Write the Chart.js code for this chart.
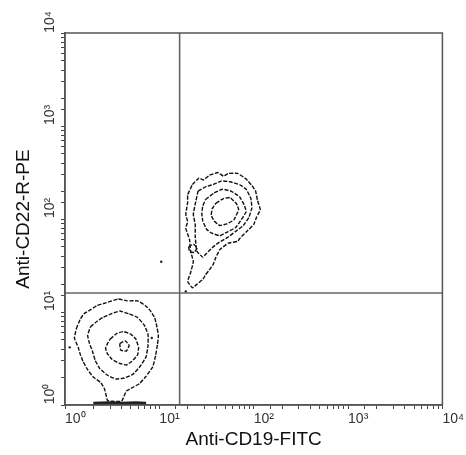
<!DOCTYPE html>
<html>
<head>
<meta charset="utf-8">
<script src="https://cdn.jsdelivr.net/npm/chart.js@4.4.1/dist/chart.umd.min.js"></script>
<style>
html,body{margin:0;padding:0;background:#fff;}
</style>
</head>
<body>
<canvas id="chart" width="466" height="455"></canvas>
<script>
// axis text
var xTitle = 'Anti-CD19-FITC';
var yTitle = 'Anti-CD22-R-PE';
var tickLabels = {1: '10\u2070', 10: '10\u00b9', 100: '10\u00b2', 1000: '10\u00b3', 10000: '10\u2074'};

// quadrant gate (channel values)
var gateX = 16.4;
var gateY = 16;

// contours, points given in decades [log10 x, log10 y]
var upperOuter = [[1.35,2.37],[1.42,2.44],[1.47,2.42],[1.53,2.47],[1.62,2.50],[1.68,2.46],[1.73,2.49],[1.83,2.49],[1.92,2.43],[1.98,2.36],[2.02,2.30],[2.04,2.20],[2.07,2.10],[2.03,2.02],[2.00,1.94],[1.92,1.86],[1.86,1.80],[1.83,1.76],[1.73,1.74],[1.64,1.67],[1.60,1.59],[1.57,1.51],[1.52,1.44],[1.49,1.40],[1.46,1.35],[1.40,1.30],[1.35,1.26],[1.30,1.33],[1.33,1.42],[1.36,1.54],[1.33,1.66],[1.32,1.78],[1.28,1.90],[1.30,1.97],[1.28,2.05],[1.30,2.18],[1.30,2.26]];
var upperMid = [[1.41,2.30],[1.50,2.35],[1.57,2.37],[1.66,2.41],[1.75,2.40],[1.85,2.37],[1.92,2.32],[1.97,2.22],[1.98,2.12],[1.95,2.02],[1.89,1.93],[1.80,1.86],[1.72,1.80],[1.62,1.74],[1.56,1.69],[1.50,1.63],[1.46,1.59],[1.40,1.65],[1.39,1.70],[1.38,1.82],[1.38,1.94],[1.36,2.05],[1.38,2.16]];
var upperInner = [[1.49,2.21],[1.58,2.28],[1.67,2.32],[1.76,2.30],[1.85,2.24],[1.90,2.15],[1.92,2.08],[1.86,1.98],[1.81,1.91],[1.72,1.86],[1.64,1.82],[1.55,1.85],[1.50,1.89],[1.46,1.98],[1.45,2.06],[1.46,2.14]];
var upperCore = [[1.60,2.17],[1.68,2.22],[1.75,2.23],[1.82,2.16],[1.84,2.10],[1.79,1.99],[1.72,1.95],[1.64,1.93],[1.58,1.98],[1.55,2.04],[1.56,2.11]];
var upperBlob = [[1.31,1.70],[1.36,1.73],[1.40,1.69],[1.37,1.64],[1.32,1.65]];
var lowerOuter = [[0.12,0.82],[0.16,0.92],[0.20,0.98],[0.28,1.03],[0.34,1.07],[0.44,1.10],[0.56,1.14],[0.66,1.12],[0.77,1.12],[0.85,1.07],[0.90,1.02],[0.95,0.94],[0.97,0.86],[0.99,0.75],[0.98,0.65],[0.96,0.53],[0.93,0.41],[0.86,0.31],[0.79,0.23],[0.70,0.18],[0.65,0.15],[0.62,0.08],[0.60,0.04],[0.50,0.04],[0.45,0.05],[0.42,0.17],[0.38,0.24],[0.30,0.30],[0.24,0.38],[0.19,0.47],[0.16,0.55],[0.14,0.62],[0.10,0.72]];
var lowerMid = [[0.27,0.84],[0.34,0.90],[0.40,0.94],[0.49,0.98],[0.58,1.01],[0.68,0.98],[0.77,0.94],[0.84,0.86],[0.88,0.76],[0.88,0.64],[0.86,0.52],[0.80,0.42],[0.72,0.33],[0.63,0.29],[0.54,0.28],[0.45,0.32],[0.37,0.39],[0.32,0.48],[0.29,0.58],[0.26,0.66],[0.24,0.75]];
var lowerInner = [[0.48,0.71],[0.55,0.77],[0.62,0.79],[0.70,0.76],[0.75,0.71],[0.78,0.62],[0.77,0.54],[0.71,0.47],[0.65,0.43],[0.57,0.45],[0.50,0.49],[0.45,0.55],[0.43,0.61],[0.45,0.66]];
var lowerCore = [[0.58,0.66],[0.64,0.69],[0.68,0.64],[0.65,0.58],[0.59,0.59]];
var baseBand = [[0.30,0.02],[0.45,0.025],[0.60,0.02],[0.75,0.025],[0.86,0.02]];
var strayDots = [[1.02,1.54],[0.05,0.62],[0.92,0.72],[1.28,1.22]];

function toPts(arr, close) {
    var pts = arr.map(function (p) { return {x: Math.pow(10, p[0]), y: Math.pow(10, p[1])}; });
    if (close) pts.push(pts[0]);
    return pts;
}

function contour(arr) {
    return {
        data: toPts(arr, true),
        showLine: true,
        borderColor: '#111',
        borderWidth: 1.4,
        borderDash: [4, 1.5],
        pointRadius: 0,
        tension: 0.1,
        fill: false
    };
}

var frame = {
    id: 'frame',
    afterDatasetsDraw: function (chart) {
        var a = chart.chartArea, ctx = chart.ctx;
        ctx.save();
        ctx.strokeStyle = '#555';
        ctx.lineWidth = 1.5;
        ctx.strokeRect(a.left, a.top, a.right - a.left, a.bottom - a.top);
        ctx.restore();
    }
};

var datos = {
    type: 'scatter',
    data: {
        datasets: [
            {data: [{x: gateX, y: 1}, {x: gateX, y: 10000}], showLine: true, borderColor: '#666', borderWidth: 1.6, pointRadius: 0},
            {data: [{x: 1, y: gateY}, {x: 10000, y: gateY}], showLine: true, borderColor: '#666', borderWidth: 1.6, pointRadius: 0},
            contour(upperOuter),
            contour(upperMid),
            contour(upperInner),
            contour(upperCore),
            contour(upperBlob),
            contour(lowerOuter),
            contour(lowerMid),
            contour(lowerInner),
            contour(lowerCore),
            {data: toPts(baseBand, false), showLine: true, borderColor: '#222', borderWidth: 3, pointRadius: 0},
            {data: toPts(strayDots, false), showLine: false, pointRadius: 1.2, backgroundColor: '#222', borderWidth: 0}
        ]
    },
    options: {
        responsive: false,
        animation: false,
        layout: {padding: {top: 33, right: 21, left: 0, bottom: 0}},
        plugins: {legend: {display: false}, tooltip: {enabled: false}},
        scales: {
            x: {
                type: 'logarithmic',
                min: 1,
                max: 10000,
                afterFit: function (s) { s.height = 50; },
                border: {display: true, color: '#555', width: 1.5},
                grid: {drawOnChartArea: false, drawTicks: true, tickLength: 4, color: '#444'},
                ticks: {
                    autoSkip: false, maxRotation: 0, align: 'start', padding: 2,
                    color: '#333', font: {family: 'Liberation Sans', size: 14},
                    callback: function (v) { return tickLabels[v] || ''; }
                },
                title: {display: true, text: xTitle, color: '#111', font: {family: 'Liberation Sans', size: 19}, padding: {top: 0, bottom: 4}}
            },
            y: {
                type: 'logarithmic',
                min: 1,
                max: 10000,
                afterFit: function (s) { s.width = 65; },
                border: {display: true, color: '#555', width: 1.5},
                grid: {drawOnChartArea: false, drawTicks: true, tickLength: 4, color: '#444'},
                ticks: {
                    autoSkip: false, minRotation: 90, maxRotation: 90, crossAlign: 'center', labelOffset: -11, padding: 0,
                    color: '#333', font: {family: 'Liberation Sans', size: 14},
                    callback: function (v) { return tickLabels[v] || ''; }
                },
                title: {display: true, text: yTitle, color: '#111', font: {family: 'Liberation Sans', size: 19}, padding: {top: 12, bottom: 0}}
            }
        }
    },
    plugins: [frame]
};

var canvas = document.getElementById('chart').getContext('2d');
window.flow = new Chart(canvas, datos);
</script>
</body>
</html>
